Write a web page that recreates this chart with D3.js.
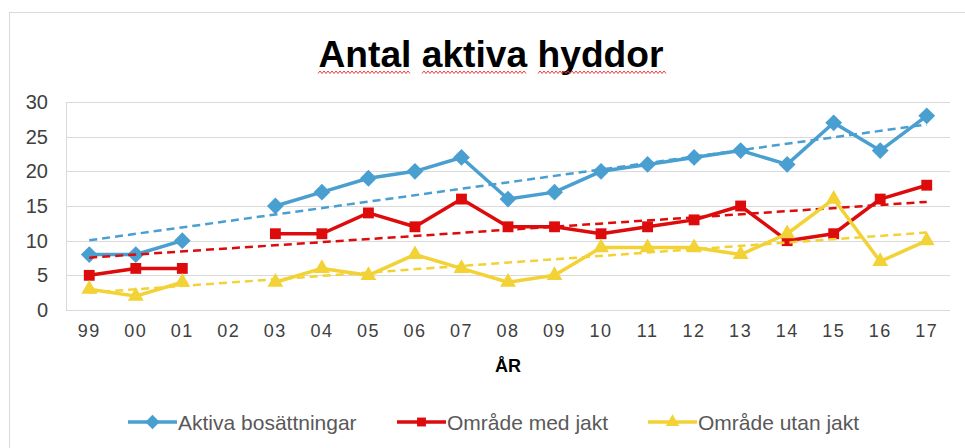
<!DOCTYPE html>
<html>
<head>
<meta charset="utf-8">
<script src="https://cdn.jsdelivr.net/npm/d3@7"></script>
<style>
  body { margin: 0; background: #fff; }
  svg { display: block; font-family: "Liberation Sans", Arial, sans-serif; }
</style>
</head>
<body>
<div id="chart"></div>
<script>
const YEARS = ["99", "00", "01", "02", "03", "04", "05", "06", "07", "08",
               "09", "10", "11", "12", "13", "14", "15", "16", "17"];
const AKTIVA = [8, 8, 10, null, 15, 17, 19, 20, 22, 16, 17, 20, 21, 22, 23, 21, 27, 23, 28];
const MED_JAKT = [5, 6, 6, null, 11, 11, 14, 12, 16, 12, 12, 11, 12, 13, 15, 10, 11, 16, 18];
const UTAN_JAKT = [3, 2, 4, null, 4, 6, 5, 8, 6, 4, 5, 9, 9, 9, 8, 11, 16, 7, 10];
const Y_TICKS = [0, 5, 10, 15, 20, 25, 30];

const SERIES = [
    {name: "Aktiva bosättningar", values: AKTIVA, color: "#4a9fd1", symbol: d3.symbolDiamond2},
    {name: "Område med jakt", values: MED_JAKT, color: "#dd0b0b", symbol: d3.symbolSquare2},
    {name: "Område utan jakt", values: UTAN_JAKT, color: "#f2d235", symbol: d3.symbolTriangle2}
];

const W = 965, H = 448;
const PLOT = {left: 66, right: 950, top: 102, bottom: 310};

const svg = d3.select("#chart")
    .append("svg")
        .attr("width", W)
        .attr("height", H);

// chart frame
svg.append("rect")
    .attr("x", 9.5).attr("y", 12.5)
    .attr("width", W).attr("height", H)
    .attr("fill", "none")
    .attr("stroke", "#d9d9d9");

// TITLE
svg.append("text")
    .attr("x", 491)
    .attr("y", 67)
    .attr("text-anchor", "middle")
    .attr("font-size", 36)
    .attr("font-weight", "bold")
    .attr("textLength", 345)
    .attr("lengthAdjust", "spacingAndGlyphs")
    .text("Antal aktiva hyddor");

// spell-check squiggles under the title words
[[318, 412], [422, 528], [538, 668]].forEach(([a, b]) => {
    const pts = d3.range(a, b, 2).map((x, i) => [x, i % 2 ? 71 : 73.5]);
    svg.append("path")
        .attr("d", d3.line()(pts))
        .attr("fill", "none")
        .attr("stroke", "#f03a3a")
        .attr("stroke-width", 1);
});

// SCALES
const x = d3.scaleBand()
    .domain(YEARS)
    .range([PLOT.left, PLOT.right]);
const cx = d => x(d) + x.bandwidth() / 2;

const y = d3.scaleLinear()
    .domain([0, 30])
    .range([PLOT.bottom, PLOT.top]);

// GRID
svg.append("g")
    .selectAll("line")
    .data(Y_TICKS)
    .enter().append("line")
        .attr("x1", PLOT.left).attr("x2", PLOT.right)
        .attr("y1", d => Math.round(y(d)) + 0.5)
        .attr("y2", d => Math.round(y(d)) + 0.5)
        .attr("stroke", "#d9d9d9");
svg.append("line")
    .attr("x1", PLOT.left + 0.5).attr("x2", PLOT.left + 0.5)
    .attr("y1", PLOT.top).attr("y2", PLOT.bottom)
    .attr("stroke", "#d9d9d9");

// AXES
const yAxis = svg.append("g")
    .attr("transform", `translate(${PLOT.left - 18}, 0)`)
    .call(d3.axisLeft(y).tickValues(Y_TICKS).tickSize(0).tickPadding(0));
yAxis.select(".domain").remove();
yAxis.selectAll("text")
    .attr("font-size", 20)
    .attr("font-family", "Liberation Sans, Arial, sans-serif")
    .attr("fill", "#404040");

const xAxis = svg.append("g")
    .attr("transform", `translate(0, ${PLOT.bottom})`)
    .call(d3.axisBottom(x).tickSize(0).tickPadding(14));
xAxis.select(".domain").remove();
xAxis.selectAll("text")
    .attr("font-size", 18)
    .attr("letter-spacing", 1.5)
    .attr("font-family", "Liberation Sans, Arial, sans-serif")
    .attr("fill", "#404040");

svg.append("text")
    .attr("x", (PLOT.left + PLOT.right) / 2)
    .attr("y", 372)
    .attr("text-anchor", "middle")
    .attr("font-size", 18)
    .attr("font-weight", "bold")
    .attr("fill", "#000")
    .text("ÅR");

// least squares trend over the category index
function trend(values) {
    const pts = values.map((v, i) => [i, v]).filter(p => p[1] != null);
    const mx = d3.mean(pts, p => p[0]), my = d3.mean(pts, p => p[1]);
    const sxy = d3.sum(pts, p => (p[0] - mx) * (p[1] - my));
    const sxx = d3.sum(pts, p => (p[0] - mx) ** 2);
    const b = sxy / sxx, a = my - b * mx;
    return [0, YEARS.length - 1].map(i => [YEARS[i], a + b * i]);
}

// DATA
const line = d3.line()
    .defined(d => d[1] != null)
    .x(d => cx(d[0]))
    .y(d => y(d[1]));

SERIES.forEach(s => {
    const pts = YEARS.map((yr, i) => [yr, s.values[i]]);

    svg.append("path")
        .attr("d", line(trend(s.values)))
        .attr("fill", "none")
        .attr("stroke", s.color)
        .attr("stroke-width", 2.5)
        .attr("stroke-dasharray", "8,5");

    svg.append("path")
        .attr("d", line(pts))
        .attr("fill", "none")
        .attr("stroke", s.color)
        .attr("stroke-width", 3.5)
        .attr("stroke-linejoin", "round");

    svg.append("g")
        .selectAll("path")
        .data(pts.filter(d => d[1] != null))
        .enter().append("path")
            .attr("transform", d => `translate(${cx(d[0])}, ${y(d[1])})`)
            .attr("d", d3.symbol().type(s.symbol).size(s.symbol === d3.symbolSquare2 ? 150 : 180))
            .attr("fill", s.color);
});

// LEGEND
const LEGEND_X = [128, 397, 648];
SERIES.forEach((s, i) => {
    const g = svg.append("g").attr("transform", `translate(${LEGEND_X[i]}, 422)`);
    g.append("line")
        .attr("x1", 0).attr("x2", 49)
        .attr("stroke", s.color)
        .attr("stroke-width", 3.5);
    g.append("path")
        .attr("transform", "translate(24.5, 0)")
        .attr("d", d3.symbol().type(s.symbol).size(s.symbol === d3.symbolSquare2 ? 100 : 130))
        .attr("fill", s.color);
    g.append("text")
        .attr("x", 50)
        .attr("y", 7.5)
        .attr("font-size", 21)
        .attr("fill", "#595959")
        .text(s.name);
});
</script>
</body>
</html>
